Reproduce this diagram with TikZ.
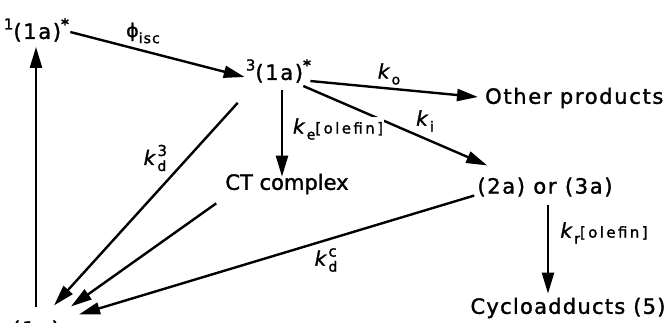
\documentclass[tikz,border=0pt]{standalone}
\usepackage{fontspec}
\setmainfont{DejaVu Sans}[LetterSpace=8,FakeBold=1.5]
\usetikzlibrary{arrows.meta,calc}
\newcommand\olef{{\fontsize{15}{17}\selectfont\addfontfeatures{LetterSpace=16}[olefin]}}
\newcommand\lo[1]{\raisebox{-0.3em}{\fontsize{14}{16}\selectfont #1}}
\newcommand\hi[1]{\raisebox{0.45em}{\fontsize{15}{16}\selectfont #1}}
\begin{document}
\begin{tikzpicture}[x=1pt,y=-1pt,
  lbl/.style={font=\fontsize{21}{24}\selectfont, inner sep=1pt},
  rate/.style={font=\fontsize{20}{24}\selectfont, inner sep=1pt},
  arr/.style={-{Triangle[length=21pt,width=12pt]}, line width=2.4pt}]
\useasboundingbox (0,0) rectangle (672,322);
% species
\node[lbl] (s1) at (37,30) {\hi{1}(1a)\hi{\textbf{*}}};
\node[lbl] (t1) at (279,71) {\hi{3}(1a)\hi{\textbf{*}}};
\node[lbl,anchor=west] (op) at (484,98) {Other products};
\node[lbl] (ct) at (287,184) {\addfontfeatures{LetterSpace=0}CT complex};
\node[lbl] (ia) at (545,187) {(2a) or (3a)};
\node[lbl] (cy) at (568,308) {\addfontfeatures{LetterSpace=6}Cycloadducts (5)};
\node[lbl] (g) at (36,330) {(1a)};
% connectors
\draw[arr] ($(s1.east)+(-1,2)$) -- ($(t1.west)+(0,6)$);
\draw[arr] ($(t1.east)+(-3,10)$) -- ($(op.west)+(-6,-1)$);
\draw[arr] ($(t1.east)+(-10,15)$) -- ($(ia.north west)+(11,-11)$);
\draw[arr] ($(t1.south)+(3,6)$) -- ($(t1.south |- ct.north)+(3,4)$);
\draw[arr] ($(t1.south west)+(-7,19)$) -- ($(g.north east)+(-7,-14)$);
\draw[arr] ($(ct.south west)+(-8,8)$) -- ($(g.north east)+(10,-13)$);
\draw[arr] ($(ia.south west)+(-2,-2)$) -- ($(g.north east)+(18,-5)$);
\draw[arr] ($(g.north)+(0,-12)$) -- ($(g.north |- s1.south)+(0,4)$);
\draw[arr] ($(ia.south)+(3,7)$) -- ($(ia.south |- cy.north)+(3,-3)$);
% rate labels
\node[rate] (lphi) at (143,33) {{\fontsize{19}{22}\selectfont ϕ}\lo{isc}};
\node[rate] (lko) at (389,74) {\textit{k}\lo{o}};
\node[rate,fill=white] (lke) at (338,129) {\textit{k}\lo{e}\olef};
\node[rate] (lki) at (425,121) {\textit{k}\lo{i}};
\node[rate] (lkd3) at (155,158) {\textit{k}\rlap{\hi{3}}\lo{d}};
\node[rate] (lkdc) at (326,260) {\textit{k}\rlap{\hi{c}}\lo{d}};
\node[rate] (lkr) at (604,233) {\textit{k}\lo{r}\olef};
\end{tikzpicture}
\end{document}
